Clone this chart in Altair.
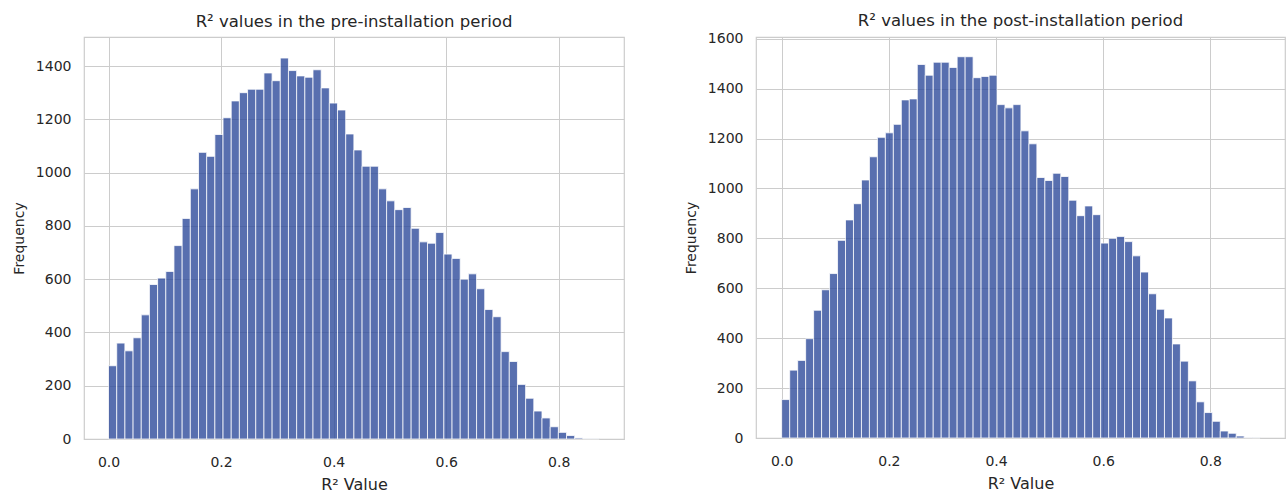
import altair as alt
import numpy as np
import pandas as pd

# Histogram counts (60 equal-width bins each)
pre_counts = [275, 360, 331, 380, 466, 580, 604, 629, 726, 828,
              939, 1076, 1061, 1143, 1206, 1269, 1300, 1313, 1313, 1374,
              1345, 1430, 1383, 1363, 1358, 1386, 1318, 1261, 1235, 1145,
              1085, 1024, 1024, 939, 894, 861, 869, 791, 740, 735,
              775, 694, 678, 600, 620, 564, 486, 459, 328, 291,
              205, 153, 105, 79, 46, 25, 13, 4, 1, 1]
post_counts = [154, 272, 311, 398, 512, 594, 659, 792, 874, 939,
               1034, 1127, 1205, 1223, 1257, 1355, 1359, 1497, 1454, 1506,
               1506, 1485, 1528, 1528, 1444, 1449, 1454, 1336, 1323, 1336,
               1231, 1179, 1044, 1032, 1061, 1048, 953, 891, 930, 895,
               781, 800, 808, 787, 730, 665, 578, 516, 481, 377,
               308, 229, 145, 102, 67, 28, 19, 8, 2, 1]
pre_range = [0.0, 0.872]
post_range = [0.0, 0.893]
x_ticks = [0.0, 0.2, 0.4, 0.6, 0.8]
pre_y_ticks = [0, 200, 400, 600, 800, 1000, 1200, 1400]
post_y_ticks = [0, 200, 400, 600, 800, 1000, 1200, 1400, 1600]
titles = ["R² values in the pre-installation period",
          "R² values in the post-installation period"]


def make_df(counts, rng):
    edges = np.linspace(rng[0], rng[1], len(counts) + 1)
    return pd.DataFrame({"start": edges[:-1], "end": edges[1:], "count": counts})


FONT = "DejaVu Sans"
TXT = "#262626"


def panel(df, title, xdom, ydom, yticks, width, height, toff):
    return alt.Chart(df).mark_bar(
        color="#2f4c9c", opacity=0.8, stroke="white", strokeWidth=0.8
    ).encode(
        x=alt.X("start:Q",
                scale=alt.Scale(domain=xdom, nice=False, zero=False),
                axis=alt.Axis(values=x_ticks, format=".1f", title="R² Value")),
        x2="end:Q",
        y=alt.Y("count:Q",
                scale=alt.Scale(domain=ydom, nice=False),
                axis=alt.Axis(values=yticks, format="d", title="Frequency")),
        y2=alt.datum(0),
    ).properties(
        width=width, height=height,
        title=alt.TitleParams(title, fontSize=16.5, font=FONT, fontWeight="normal",
                              color=TXT, offset=toff, frame="group")
    )


left = panel(make_df(pre_counts, pre_range), titles[0],
             [-0.0436, 0.916], [0, 1509], pre_y_ticks, 540, 402, 7)
right = panel(make_df(post_counts, post_range), titles[1],
              [-0.048, 0.9394], [0, 1607], post_y_ticks, 529, 401, 2)

chart = alt.hconcat(left, right, spacing=132, bounds="flush").properties(
    padding={"left": 11, "right": 0, "top": 12, "bottom": 0}
).configure_view(
    stroke="#cccccc", strokeWidth=1.2
).configure_axis(
    grid=True, gridColor="#cccccc", gridWidth=1,
    domain=False, ticks=False, tickSize=0,
    labelFont=FONT, labelFontSize=14, labelColor=TXT, labelPadding=13,
    titleFont=FONT, titleFontSize=16, titleFontWeight="normal", titleColor=TXT,
).configure_axisX(
    labelPadding=16, titlePadding=7
).configure_axisY(
    titlePadding=9, titleFontSize=14
)

chart.save("out.html", embed_options={"renderer": "svg", "actions": False})
